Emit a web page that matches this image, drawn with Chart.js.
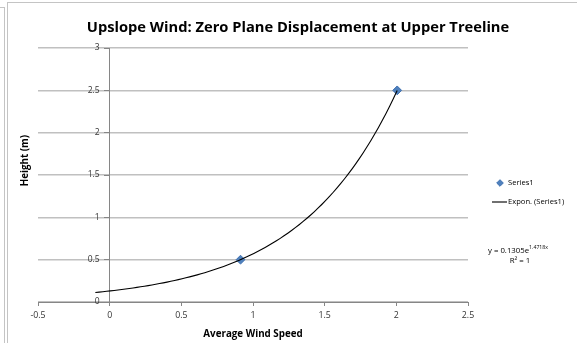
<!DOCTYPE html>
<html>
<head>
<meta charset="utf-8">
<script src="https://cdn.jsdelivr.net/npm/chart.js@4.4.1/dist/chart.umd.min.js"></script>
<style>
  html, body { margin: 0; padding: 0; background: #fff; }
  #wrap { position: relative; width: 577px; height: 343px; overflow: hidden; }
  /* page cell edge and chart frame */
  #cell { position: absolute; left: -10px; top: 7px; width: 14px; bottom: -10px;
          border-right: 1.5px solid #c4c4c4; border-top: 1.5px solid #c4c4c4; }
  #frame { position: absolute; left: 7px; top: 2px; right: -10px; bottom: -10px;
           border-left: 1.5px solid #c4c4c4; border-top: 1.5px solid #c4c4c4; }
  canvas { position: absolute; left: 0; top: 0; }
</style>
</head>
<body>
<div id="wrap">
  <div id="cell"></div>
  <div id="frame"></div>
  <canvas id="c" width="577" height="343"></canvas>
</div>
<script>
// Measured points: average wind speed vs. height
const windSpeed = [0.913, 2.006];
const heightM = [0.5, 2.5];

// Axis tick values
const xTickValues = [-0.5, 0, 0.5, 1, 1.5, 2, 2.5];
const yTickValues = [0, 0.5, 1, 1.5, 2, 2.5, 3];

// Exponential trendline y = A * e^(B x), with its backward forecast start
const TREND_A = 0.1305;
const TREND_B = 1.4718;
const TREND_R2 = 1;
const TREND_START = -0.1;

const trendPoints = [];
(function buildTrend() {
  const x0 = TREND_START;
  const x1 = windSpeed[windSpeed.length - 1];
  const steps = 80;
  for (let i = 0; i <= steps; i++) {
    const x = x0 + (x1 - x0) * i / steps;
    trendPoints.push({ x: x, y: TREND_A * Math.exp(TREND_B * x) });
  }
})();

const FONT = "'Open Sans'";
const Y_TITLE = 'Height (m)';
const setTicks = values => scale => { scale.ticks = values.map(v => ({ value: v })); };
const plainLabel = v => String(v);

// Vertical axis crossing at x = 0: tick labels set off from the tick marks, plus the axis title
const zeroAxisLabels = {
  id: 'zeroAxisLabels',
  afterDraw(chart) {
    const { ctx, chartArea } = chart;
    const yScale = chart.scales.yAxisAtZero;
    const axisX = chart.scales.x.getPixelForValue(0);
    ctx.save();
    ctx.font = '8.5px ' + FONT;
    ctx.fillStyle = '#333';
    ctx.textAlign = 'right';
    ctx.textBaseline = 'middle';
    yScale.ticks.forEach(t => {
      ctx.fillText(plainLabel(t.value), axisX - 10, yScale.getPixelForValue(t.value));
    });

    // rotated axis title
    ctx.translate(25, yScale.getPixelForValue(1.67));
    ctx.rotate(-Math.PI / 2);
    ctx.font = 'bold 9.8px ' + FONT;
    ctx.fillStyle = '#000';
    ctx.textAlign = 'center';
    ctx.fillText(Y_TITLE, 0, 0);
    ctx.restore();
  }
};

// Legend and trendline equation at the right of the plot
const sideLegend = {
  id: 'sideLegend',
  afterDraw(chart) {
    const { ctx, chartArea } = chart;
    const ds = chart.data.datasets;
    const x = chartArea.right;
    ctx.save();
    ctx.textBaseline = 'middle';
    ctx.textAlign = 'left';

    // Series1 marker
    ctx.fillStyle = ds[0].backgroundColor;
    ctx.strokeStyle = ds[0].borderColor;
    ctx.lineWidth = 1;
    Chart.helpers.drawPoint(ctx, { pointStyle: 'rectRot', radius: 3.3, borderWidth: 1 }, x + 32, 183);
    ctx.fillStyle = '#000';
    ctx.font = '7.6px ' + FONT;
    ctx.fillText(ds[0].label, x + 40, 183);

    // Trendline sample
    ctx.strokeStyle = '#404040';
    ctx.lineWidth = 1.5;
    ctx.beginPath();
    ctx.moveTo(x + 24, 202);
    ctx.lineTo(x + 39, 202);
    ctx.stroke();
    ctx.fillText(ds[1].label, x + 40, 202);

    // Equation
    const base = 'y = ' + TREND_A + 'e';
    const sup = TREND_B + 'x';
    ctx.font = '7.8px ' + FONT;
    const wb = ctx.measureText(base).width;
    ctx.font = '5.2px ' + FONT;
    const ws = ctx.measureText(sup).width;
    const cx = x + 50;
    const sx = cx - (wb + ws) / 2;
    ctx.font = '7.8px ' + FONT;
    ctx.fillText(base, sx, 251);
    ctx.font = '5.2px ' + FONT;
    ctx.fillText(sup, sx + wb, 247.5);
    ctx.font = '7.8px ' + FONT;
    ctx.textAlign = 'center';
    ctx.fillText('R\u00B2 = ' + TREND_R2, cx + 2, 261);
    ctx.restore();
  }
};

new Chart(document.getElementById('c').getContext('2d'), {
  type: 'scatter',
  data: {
    datasets: [
      {
        label: 'Series1',
        data: windSpeed.map((x, i) => ({ x: x, y: heightM[i] })),
        pointStyle: 'rectRot',
        pointRadius: 4.4,
        pointHoverRadius: 4.4,
        backgroundColor: '#4f81bd',
        borderColor: '#3d6fb0',
        borderWidth: 1,
        order: 2
      },
      {
        label: 'Expon. (Series1)',
        data: trendPoints,
        showLine: true,
        pointRadius: 0,
        pointHoverRadius: 0,
        borderColor: '#000',
        borderWidth: 1.1,
        fill: false,
        tension: 0,
        order: 1
      }
    ]
  },
  options: {
    responsive: false,
    animation: false,
    events: [],
    layout: { padding: { left: 19, right: 0, top: 0, bottom: 0 } },
    plugins: {
      legend: { display: false },
      tooltip: { enabled: false },
      title: {
        display: true,
        text: 'Upslope Wind: Zero Plane Displacement at Upper Treeline',
        color: '#000',
        font: { family: FONT, size: 14.7, weight: 'bold' },
        padding: { top: 19, bottom: 11.4 }
      }
    },
    scales: {
      x: {
        type: 'linear',
        position: 'bottom',
        min: -0.5,
        max: 2.5,
        afterBuildTicks: setTicks(xTickValues),
        afterFit: s => { s.height = 41; },
        grid: { drawOnChartArea: false, drawTicks: true, tickLength: 4, color: '#868686' },
        border: { color: '#868686', width: 1 },
        ticks: { color: '#333', font: { family: FONT, size: 8.8 }, padding: 4, maxRotation: 0, callback: plainLabel },
        title: {
          display: true,
          text: 'Average Wind Speed',
          color: '#000',
          font: { family: FONT, size: 9.8, weight: 'bold' },
          padding: { top: 0, bottom: 3 }
        }
      },
      y: {
        type: 'linear',
        position: 'left',
        min: 0,
        max: 3,
        afterBuildTicks: setTicks(yTickValues),
        afterFit: s => { s.width = 19; },
        grid: { color: '#c0c0c0', lineWidth: 1.5, drawTicks: false },
        border: { display: false },
        ticks: { display: false },
        title: { display: false }
      },
      yAxisAtZero: {
        type: 'linear',
        axis: 'y',
        position: { x: 0 },
        min: 0,
        max: 3,
        afterBuildTicks: setTicks(yTickValues),
        grid: { drawOnChartArea: false, drawTicks: true, tickLength: 5, color: '#868686' },
        border: { color: '#868686', width: 1 },
        ticks: { display: false }
      },
      legendSpace: {
        type: 'linear',
        axis: 'y',
        position: 'right',
        min: 0,
        max: 3,
        afterFit: s => { s.width = 109; },
        grid: { display: false },
        border: { display: false },
        ticks: { display: false }
      }
    }
  },
  plugins: [zeroAxisLabels, sideLegend]
});
</script>
</body>
</html>
